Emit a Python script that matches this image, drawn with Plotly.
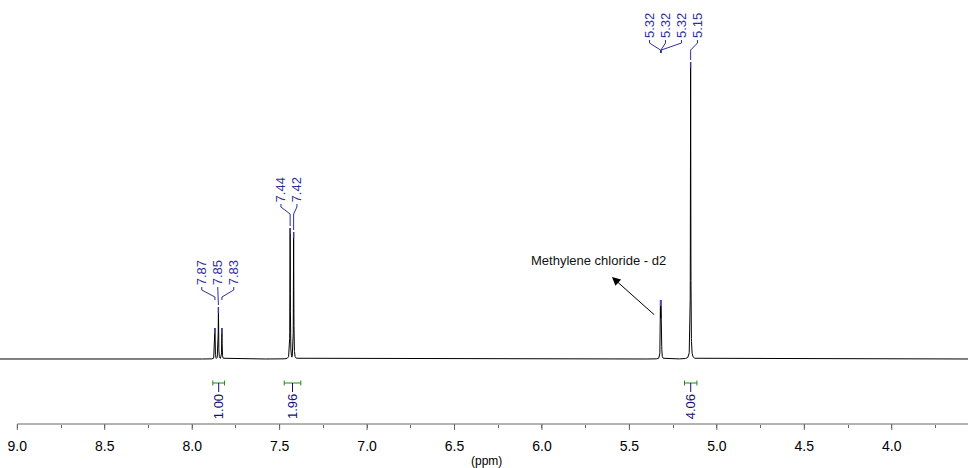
import numpy as np
import plotly.graph_objects as go

# ---------------- data ----------------
peak_ppm = [7.87, 7.85, 7.83, 7.44, 7.42, 5.3225, 5.3200, 5.3175, 5.15]
peak_height = [31, 52, 31, 131, 127, 59, 59, 59, 297]
peak_label = ["7.87", "7.85", "7.83", "7.44", "7.42", "5.32", "5.32", "5.32", "5.15"]
peak_group = [0, 0, 0, 1, 1, 2, 2, 2, 2]

integ_from = [7.882, 7.474, 5.185]
integ_to = [7.815, 7.379, 5.114]
integ_value = ["1.00", "1.96", "4.06"]

tick_vals = [9.0, 8.5, 8.0, 7.5, 7.0, 6.5, 6.0, 5.5, 5.0, 4.5, 4.0]
tick_text = ["9.0", "8.5", "8.0", "7.5", "7.0", "6.5", "6.0", "5.5", "5.0", "4.5", "4.0"]

axis_title = "(ppm)"
solvent_text = "Methylene chloride - d2"

# ---------------- layout constants ----------------
X_RANGE = [9.099, 3.564]
PLOT_H = 424.0
PPM_PER_PX = (X_RANGE[0] - X_RANGE[1]) / 968.0
HWHM = 0.0012
group_anchor = [7.854, 7.447, 5.248]
group_level = [73, 156, 320]
label_gap = 16 * PPM_PER_PX
LBL_BLUE = "#2e2e9e"
MARK_BLUE = "rgba(90,90,220,0.65)"
INT_GREEN = "#1a8a1a"
INT_NAVY = "#10107a"
AXIS_GREY = "#666666"
FONT = "Liberation Sans, Arial, sans-serif"

# ---------------- spectrum ----------------
x = np.concatenate([np.arange(X_RANGE[1] - 0.01, X_RANGE[0] + 0.01, 0.0004), np.array(peak_ppm)])
x = np.sort(x)
y = np.zeros_like(x)
for p, h in zip(peak_ppm, peak_height):
    y = np.maximum(y, h / (1.0 + ((x - p) / HWHM) ** 2))

fig = go.Figure()
fig.add_trace(go.Scatter(x=x, y=y, mode="lines", line=dict(color="black", width=1),
                         hoverinfo="skip", showlegend=False))

# peak-top markers
for p, h in zip(peak_ppm, peak_height):
    fig.add_trace(go.Scatter(x=[p, p], y=[h, h - 6], mode="lines",
                             line=dict(color=MARK_BLUE, width=1.5),
                             hoverinfo="skip", showlegend=False))

# peak labels and connectors
annotations = []
for g in range(3):
    idx = [i for i in range(len(peak_ppm)) if peak_group[i] == g]
    n = len(idx)
    L = group_level[g]
    for k, i in enumerate(idx):
        lx = group_anchor[g] + (n - 1) / 2.0 * label_gap - k * label_gap
        p = peak_ppm[i]
        top = peak_height[i]
        diag_end = L - 11
        if diag_end - top < 20:
            final = top + 2
        else:
            final = diag_end - 3
        fig.add_trace(go.Scatter(x=[lx, lx, p, p], y=[L - 1, L - 4, diag_end, final],
                                 mode="lines", line=dict(color=LBL_BLUE, width=1),
                                 hoverinfo="skip", showlegend=False))
        annotations.append(dict(x=lx, y=L, xref="x", yref="y", text=peak_label[i],
                                showarrow=False, textangle=-90, xanchor="center",
                                yanchor="bottom", borderpad=0,
                                font=dict(family=FONT, size=13, color=LBL_BLUE)))

# integrals
IY = -24
for a, b, v in zip(integ_from, integ_to, integ_value):
    c = (a + b) / 2.0
    fig.add_trace(go.Scatter(x=[a, a, None, a, b, None, b, b], y=[IY - 2.5, IY + 2.5, None, IY, IY, None, IY - 2.5, IY + 2.5],
                             mode="lines", line=dict(color=INT_GREEN, width=1),
                             hoverinfo="skip", showlegend=False))
    fig.add_trace(go.Scatter(x=[c, c], y=[IY, IY - 9], mode="lines",
                             line=dict(color=INT_NAVY, width=1),
                             hoverinfo="skip", showlegend=False))
    annotations.append(dict(x=c, y=IY - 10, xref="x", yref="y", text=v, showarrow=False,
                            textangle=-90, xanchor="center", yanchor="top", borderpad=0,
                            font=dict(family=FONT, size=13, color=INT_NAVY)))

# solvent annotation
annotations.append(dict(x=5.677, y=99, xref="x", yref="y", text=solvent_text, showarrow=False,
                        xanchor="center", yanchor="middle",
                        font=dict(family=FONT, size=13, color="#111111")))
annotations.append(dict(x=5.600, y=82, xref="x", yref="y", ax=5.350, ay=43, axref="x", ayref="y",
                        text="", showarrow=True, arrowhead=2, arrowsize=1.7, arrowwidth=1,
                        arrowcolor="black"))

# axis title
annotations.append(dict(x=0.503, y=-37 / PLOT_H, xref="paper", yref="paper", text=axis_title,
                        showarrow=False, xanchor="center", yanchor="middle",
                        font=dict(family=FONT, size=12, color="black")))

# axis line (starts at first major tick) and visible major ticks
fig.add_shape(type="line", xref="x", yref="paper", x0=tick_vals[0], x1=X_RANGE[1], y0=0, y1=0,
              line=dict(color=AXIS_GREY, width=1))
for v in tick_vals:
    fig.add_shape(type="line", xref="x", yref="paper", x0=v, x1=v, y0=0, y1=-6 / PLOT_H,
                  line=dict(color=AXIS_GREY, width=1))

fig.update_layout(
    width=968, height=468,
    margin=dict(l=0, r=0, t=0, b=44),
    paper_bgcolor="white", plot_bgcolor="white",
    annotations=annotations,
    showlegend=False,
    xaxis=dict(range=X_RANGE, showgrid=False, zeroline=False, showline=False,
               tickmode="array", tickvals=tick_vals, ticktext=tick_text,
               ticks="outside", ticklen=9, tickcolor="rgba(0,0,0,0)", tickwidth=1,
               tickfont=dict(family=FONT, size=14, color="black"),
               minor=dict(dtick=0.25, tick0=0, ticks="outside", ticklen=3, tickcolor=AXIS_GREY, showgrid=False)),
    yaxis=dict(range=[-65, 359], visible=False, showgrid=False, zeroline=False),
)

fig.write_html("out.html")
